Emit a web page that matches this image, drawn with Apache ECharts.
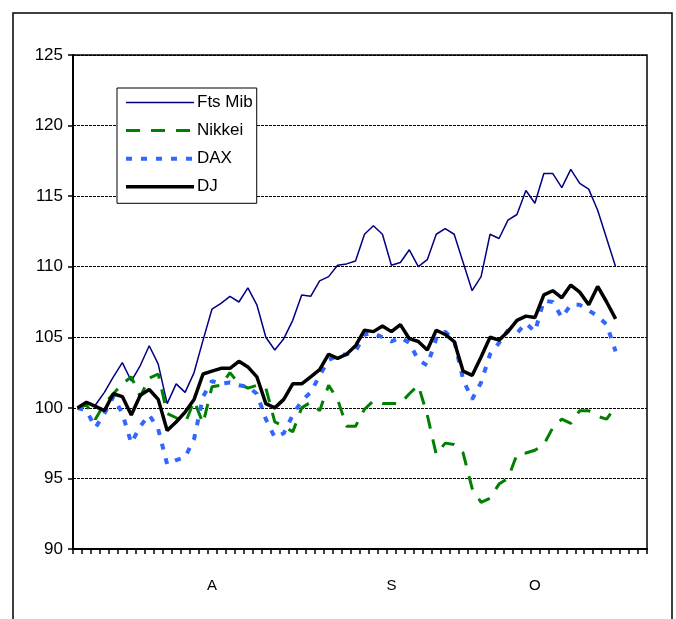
<!DOCTYPE html>
<html><head><meta charset="utf-8">
<script src="https://cdn.jsdelivr.net/npm/echarts@6/dist/echarts.min.js"></script>
<style>html,body{margin:0;padding:0;background:#fff}#c{width:676px;height:619px}</style>
</head><body><div id="c"></div>
<script>
// 64 daily slots on the category axis (data fills the first 61)
const days = ['1','2','3','4','5','6','7','8','9','10','11','12','13','14','15','16',
  '17','18','19','20','21','22','23','24','25','26','27','28','29','30','31','32',
  '33','34','35','36','37','38','39','40','41','42','43','44','45','46','47','48',
  '49','50','51','52','53','54','55','56','57','58','59','60','61','62','63','64'];
const monthLabels = ['A','S','O'];
const monthAt = [15,35,51];
const yTicks = [90,95,100,105,110,115,120,125];

const ftsMib = [100.0,100.3,100.2,101.1,102.2,103.2,101.9,103.0,104.4,103.1,
  100.3,101.7,101.1,102.5,104.8,107.0,107.4,107.9,107.5,108.5,
  107.3,105.0,104.1,104.9,106.2,108.0,107.9,109.0,109.3,110.1,
  110.2,110.4,112.3,112.9,112.3,110.1,110.3,111.2,110.0,110.5,
  112.3,112.7,112.3,110.3,108.3,109.3,112.3,112.0,113.3,113.7,
  115.4,114.5,116.6,116.6,115.6,116.9,115.9,115.5,114.0,112.0,110.0];
const nikkei = [100.0,100.2,99.2,100.3,101.0,101.7,102.2,100.8,102.1,102.4,
  99.6,99.3,98.9,100.5,98.9,101.5,101.6,102.5,101.7,101.4,
  101.6,101.4,99.0,98.7,98.3,100.0,100.4,99.8,101.6,100.6,
  98.7,98.7,99.9,100.5,100.3,100.3,100.3,101.0,101.6,99.5,
  96.7,97.5,97.4,96.8,94.3,93.3,93.6,94.6,95.0,96.7,
  96.8,97.0,97.4,98.6,99.2,98.9,99.8,99.8,99.4,99.2,100.1];
const dax = [100.0,99.8,98.6,99.6,100.8,99.6,97.5,98.7,99.5,98.5,
  96.0,96.3,96.5,97.8,100.8,101.9,101.7,101.8,101.6,101.5,
  101.0,99.2,97.9,98.2,99.5,100.5,101.1,102.3,103.4,103.7,
  103.8,104.0,105.2,105.3,105.0,104.7,105.0,104.6,103.4,103.0,
  104.9,105.4,104.8,102.0,100.6,101.8,103.8,104.6,105.5,105.3,
  106.0,105.4,107.6,107.5,106.4,107.3,107.3,106.9,106.5,105.9,104.0];
const dj = [100.0,100.4,100.1,99.8,101.0,100.8,99.5,100.9,101.3,100.6,
  98.4,99.0,99.7,100.6,102.4,102.6,102.8,102.8,103.3,102.9,
  102.2,100.3,100.0,100.6,101.7,101.7,102.2,102.7,103.8,103.5,
  103.8,104.4,105.5,105.4,105.8,105.4,105.9,104.9,104.7,104.1,
  105.5,105.2,104.7,102.6,102.3,103.6,105.0,104.8,105.4,106.2,
  106.5,106.4,108.0,108.3,107.8,108.7,108.2,107.3,108.6,107.5,106.3];

const FONT = 'Liberation Sans, Arial, sans-serif';
const chart = echarts.init(document.getElementById('c'), null, {renderer:'canvas'});
chart.setOption({
  animation: false,
  backgroundColor: '#fff',
  graphic: [{
    type: 'rect', silent: true, z: -1,
    shape: {x: 13, y: 13, width: 659, height: 640},
    style: {fill: 'none', stroke: '#000', lineWidth: 1.5}
  }],
  grid: {left: 73, right: 29, top: 55, bottom: 70, show: true,
    borderColor: '#000', borderWidth: 1.5, backgroundColor: 'transparent'},
  legend: {
    orient: 'vertical', left: 117, top: 88,
    itemWidth: 68, itemHeight: 14, itemGap: 11.1,
    padding: [6, 4, 8, 7],
    backgroundColor: '#fff', borderColor: '#000', borderWidth: 1,
    itemStyle: {opacity: 0},
    lineStyle: {width: 'inherit', type: 'inherit'},
    textStyle: {fontFamily: FONT, fontSize: 17, color: '#000', padding: [0,0,0,-2]},
    data: ['Fts Mib','Nikkei','DAX','DJ']
  },
  xAxis: {
    type: 'category', data: days, boundaryGap: true,
    axisLine: {lineStyle: {color: '#000', width: 2}},
    axisTick: {show: true, interval: 0, length: 5, lineStyle: {color: '#000', width: 1.5}},
    axisLabel: {interval: 0, margin: 29, fontFamily: FONT, fontSize: 15, color: '#000',
      formatter: function (v, i) { const k = monthAt.indexOf(i); return k >= 0 ? monthLabels[k] : ''; }},
    splitLine: {show: false}
  },
  yAxis: {
    type: 'value', min: yTicks[0], max: yTicks[yTicks.length-1], interval: 5,
    axisLine: {show: true, lineStyle: {color: '#000', width: 2}},
    axisTick: {show: true, length: 5, lineStyle: {color: '#000', width: 1.5}},
    axisLabel: {margin: 10, fontFamily: FONT, fontSize: 17, color: '#000'},
    splitLine: {show: true, lineStyle: {color: '#000', width: 1, type: [3, 1]}}
  },
  series: [
    {name: 'Fts Mib', type: 'line', data: ftsMib, symbol: 'none', color: '#000080',
      lineStyle: {color: '#000080', width: 1.5}},
    {name: 'Nikkei', type: 'line', data: nikkei, symbol: 'none', color: '#008000',
      lineStyle: {color: '#008000', width: 3, type: [14, 11]}},
    {name: 'DAX', type: 'line', data: dax, symbol: 'none', color: '#3366FF',
      lineStyle: {color: '#3366FF', width: 4, type: [6, 9]}},
    {name: 'DJ', type: 'line', data: dj, symbol: 'none', color: '#000',
      lineStyle: {color: '#000', width: 3.5}}
  ]
});
</script></body></html>
